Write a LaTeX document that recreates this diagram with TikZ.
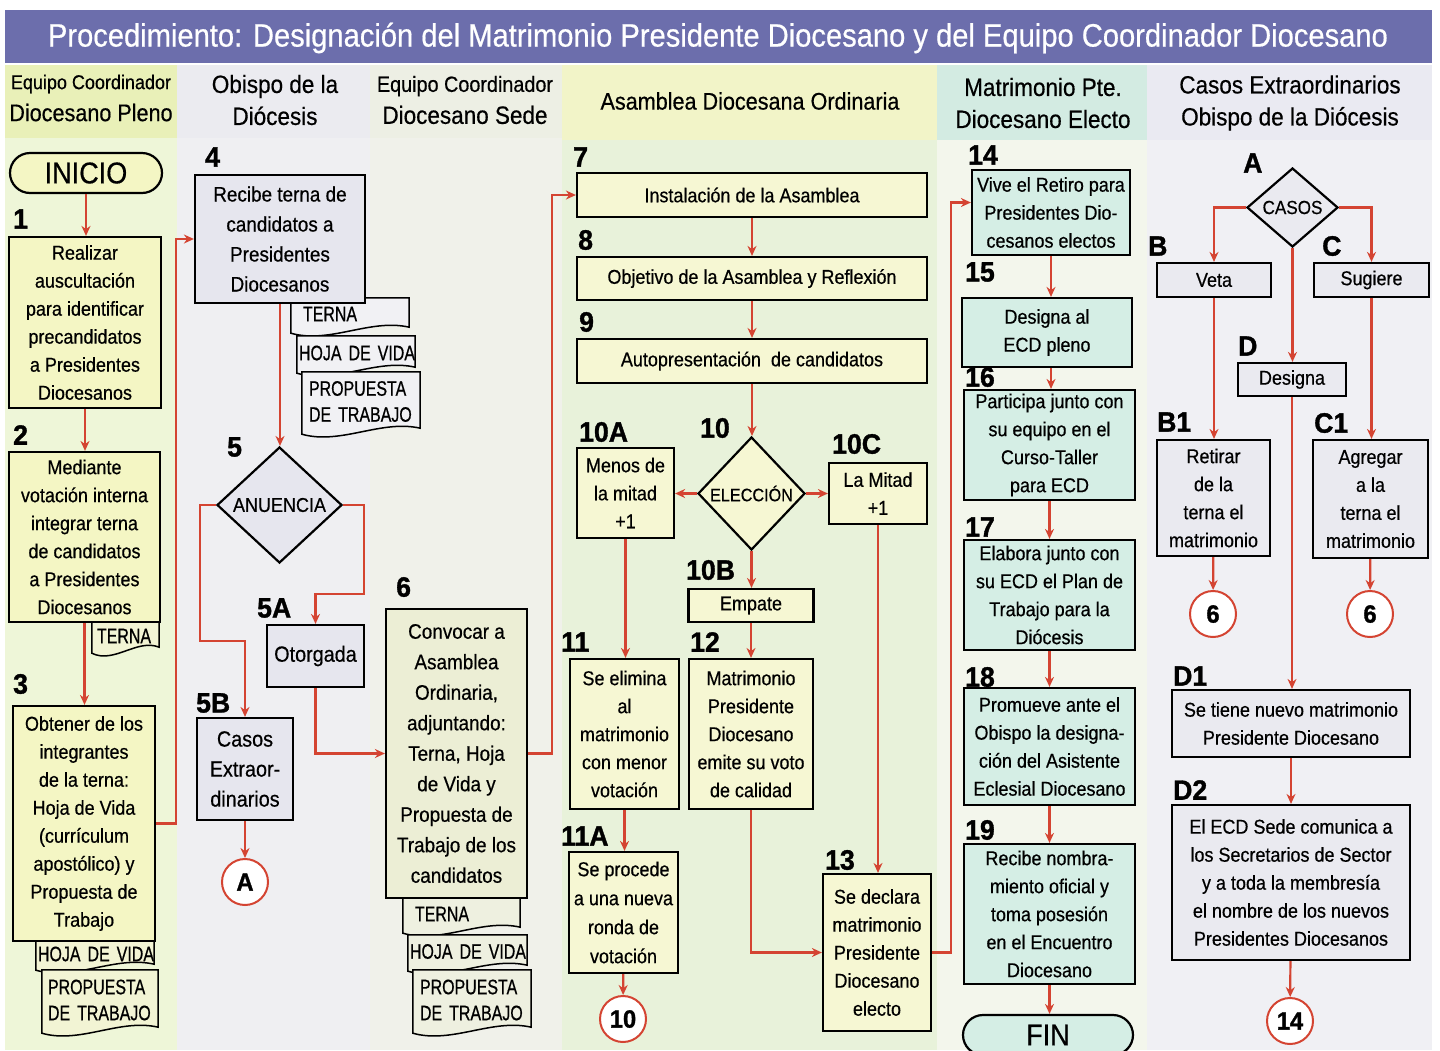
\documentclass[tikz,border=0pt]{standalone}
\usepackage{fontspec}
\setmainfont{Liberation Sans}[FakeStretch=0.9,FakeBold=0.5]
\newfontfamily\numfont{Liberation Sans}[FakeStretch=0.95,FakeBold=1.2]
\newfontfamily\docfont{Liberation Sans}[FakeStretch=0.76,FakeBold=0.6]
\usetikzlibrary{shapes.geometric,arrows.meta,calc,backgrounds}

\definecolor{titlebg}{RGB}{108,110,172}
\definecolor{flowred}{RGB}{212,68,50}
\definecolor{hdA}{RGB}{233,240,184}
\definecolor{bgA}{RGB}{238,246,216}
\definecolor{hdB}{RGB}{235,235,240}
\definecolor{bgB}{RGB}{239,239,242}
\definecolor{hdC}{RGB}{237,239,228}
\definecolor{bgC}{RGB}{240,241,234}
\definecolor{hdD}{RGB}{242,244,200}
\definecolor{bgD}{RGB}{232,242,218}
\definecolor{hdE}{RGB}{211,235,226}
\definecolor{bgE}{RGB}{243,246,236}
\definecolor{hdF}{RGB}{234,234,242}
\definecolor{bgF}{RGB}{240,240,244}
\definecolor{fillA}{RGB}{244,246,196}
\definecolor{fillB}{RGB}{230,230,238}
\definecolor{fillC}{RGB}{236,238,213}
\definecolor{fillD}{RGB}{246,247,211}
\definecolor{fillE}{RGB}{213,238,229}
\definecolor{fillF}{RGB}{234,234,240}
\definecolor{docA}{RGB}{242,244,212}
\definecolor{docB}{RGB}{241,241,244}
\definecolor{docC}{RGB}{238,240,224}

% document sheet with a wavy lower edge, drawn behind a node
\newcommand{\docframe}[2]{%
  \filldraw[fill=#2,draw=black,line width=1.5pt]
    (#1.north west) -- ($(#1.south west)+(0,3)$)
    .. controls ($(#1.south west)!0.33!(#1.south east)+(0,14)$)
    and ($(#1.south west)!0.67!(#1.south east)+(0,-12)$)
    .. ($(#1.south east)+(0,-3)$) -- (#1.north east) -- cycle;}

\begin{document}
\begin{tikzpicture}[x=1pt,y=-1pt,>={Stealth[length=10pt,width=9pt]},
    flow/.style={draw=flowred,line width=2.2pt,->},
    box/.style={draw,line width=2.2pt,align=center,inner sep=1pt,font=\fontsize{20}{28}\selectfont},
    sz/.style 2 args={minimum width=#1pt,minimum height=#2pt},
    dec/.style={diamond,draw,line width=2.2pt,inner sep=0pt,aspect=1},
    hdr/.style={align=center,inner sep=0pt,font=\fontsize{25}{32}\selectfont},
    num/.style={anchor=west,inner sep=0pt,font=\numfont\bfseries\fontsize{28}{28}\selectfont},
    refc/.style={circle,draw=flowred,line width=2pt,fill=white,minimum size=46pt,inner sep=0pt,
        font=\numfont\bfseries\fontsize{25}{25}\selectfont},
    docu/.style 2 args={text width=#1pt,minimum height=#2pt,inner ysep=0pt,align=left,
        font=\docfont\fontsize{21}{26}\selectfont}]
\useasboundingbox (0,0) rectangle (1440,1050);

% title and lane headings
\node[text=white,inner sep=0pt,font=\fontsize{30}{30}\selectfont] (title) at (718,38)
    {\resizebox{1340pt}{!}{Procedimiento: Designación del Matrimonio Presidente Diocesano y del Equipo Coordinador Diocesano}};
\node[hdr] (hd1) at (91,98) {{\fontsize{20}{24}\selectfont Equipo Coordinador}\\{\fontsize{24}{30}\selectfont Diocesano Pleno}};
\node[hdr] (hd2) at (275,100) {Obispo de la\\Diócesis};
\node[hdr] (hd3) at (465,100) {{\fontsize{22}{28}\selectfont Equipo Coordinador}\\Diocesano Sede};
\node[hdr,font=\fontsize{24}{30}\selectfont] (hd4) at (750,101) {Asamblea Diocesana Ordinaria};
\node[hdr] (hd5) at (1043,103) {Matrimonio Pte.\\Diocesano Electo};
\node[hdr] (hd6) at (1290,103) {Casos Extraordinarios\\Obispo de la Diócesis};

% Equipo Coordinador Diocesano Pleno
\node[box,fill=fillA,sz={152}{40},rounded corners=20pt,font=\fontsize{30}{30}\selectfont] (inicio) at (86,173) {INICIO};
\node[num] (l1) at (13,219) {1};
\node[box,fill=fillA,sz={152}{171}] (b1) at (85,322.5) {Realizar\\auscultación\\para identificar\\precandidatos\\a Presidentes\\Diocesanos};
\node[num] (l2) at (13,435) {2};
\node[box,fill=fillA,sz={151}{170}] (b2) at (84.5,537) {Mediante\\votación interna\\integrar terna\\de candidatos\\a Presidentes\\Diocesanos};
\node[docu={57}{28},inner xsep=5pt] (d2t) at (125.5,636) {TERNA};
\node[docu={114}{26},inner xsep=2pt] (d3h) at (95,954) {HOJA~DE~VIDA};
\node[num] (l3) at (13,684) {3};
\node[box,fill=fillA,sz={142}{235}] (b3) at (84,823.5) {Obtener de los\\integrantes\\de la terna:\\Hoja de Vida\\(currículum\\apostólico) y\\Propuesta de\\Trabajo};
\node[docu={104}{60},inner xsep=6pt] (d3p) at (100,1000) {PROPUESTA\\DE~TRABAJO};

% Obispo de la Diocesis
\node[num] (l4) at (205,157) {4};
\node[box,fill=fillB,sz={170}{128},font=\fontsize{21}{30}\selectfont] (b4) at (280,239) {Recibe terna de\\candidatos a\\Presidentes\\Diocesanos};
\node[docu={94}{32},inner xsep=12pt] (d4t) at (350,314) {TERNA};
\node[docu={114}{34},inner xsep=2pt] (d4h) at (356,353) {HOJA~DE~VIDA};
\node[docu={104}{59},inner xsep=7pt] (d4p) at (361,401.5) {PROPUESTA\\DE~TRABAJO};
\node[num] (l5) at (227,447) {5};
\node[dec,fill=fillB,sz={125}{116},font=\fontsize{20}{20}\selectfont] (anuencia) at (279.5,505) {ANUENCIA};
\node[num] (l5a) at (257,608) {5A};
\node[box,fill=fillB,sz={97}{62},font=\fontsize{22}{30}\selectfont] (otorgada) at (315.5,656) {Otorgada};
\node[num] (l5b) at (196,703) {5B};
\node[box,fill=fillB,sz={96}{102},font=\fontsize{22}{30}\selectfont] (extra) at (245,769) {Casos\\Extraor-\\dinarios};
\node[refc] (refA) at (245,882) {A};

% Equipo Coordinador Diocesano Sede
\node[num] (l6) at (396,587) {6};
\node[box,fill=fillC,sz={141}{289},font=\fontsize{21}{30.5}\selectfont] (b6) at (456.5,753.5) {Convocar a\\Asamblea\\Ordinaria,\\adjuntando:\\Terna, Hoja\\de Vida y\\Propuesta de\\Trabajo de los\\candidatos};
\node[docu={93}{32},inner xsep=12pt] (d6t) at (461.5,914) {TERNA};
\node[docu={115}{33},inner xsep=2pt] (d6h) at (467.5,951.5) {HOJA~DE~VIDA};
\node[docu={104}{60},inner xsep=7pt] (d6p) at (472,1000) {PROPUESTA\\DE~TRABAJO};

% Asamblea Diocesana Ordinaria
\node[num] (l7) at (573,157) {7};
\node[box,fill=fillD,sz={350}{44}] (b7) at (752,195) {Instalación de la Asamblea};
\node[num] (l8) at (578,240) {8};
\node[box,fill=fillD,sz={350}{43}] (b8) at (752,278.5) {Objetivo de la Asamblea y Reflexión};
\node[num] (l9) at (579,322) {9};
\node[box,fill=fillD,sz={350}{44}] (b9) at (752,361) {Autopresentación~~de candidatos};
\node[num] (l10) at (700,428) {10};
\node[dec,fill=fillD,sz={107}{113},font=\fontsize{18}{18}\selectfont] (eleccion) at (751.5,493.5) {ELECCIÓN};
\node[num] (l10a) at (579,432) {10A};
\node[box,fill=fillD,sz={97}{90}] (b10a) at (625.5,493) {Menos de\\la mitad\\+1};
\node[num] (l10c) at (832,444) {10C};
\node[box,fill=fillD,sz={98}{61}] (b10c) at (878,493.5) {La Mitad\\+1};
\node[num] (l10b) at (686,570) {10B};
\node[box,fill=fillD,sz={125}{33}] (empate) at (751,605.5) {Empate};
\node[num] (l11) at (561,642) {11};
\node[box,fill=fillD,sz={109}{150}] (b11) at (624.5,734) {Se elimina\\al\\matrimonio\\con menor\\votación};
\node[num] (l12) at (690,642) {12};
\node[box,fill=fillD,sz={124}{150}] (b12) at (751,734) {Matrimonio\\Presidente\\Diocesano\\emite su voto\\de calidad};
\node[num] (l11a) at (561,836) {11A};
\node[box,fill=fillD,sz={109}{121},font=\fontsize{20}{29}\selectfont] (b11a) at (623.5,912.5) {Se procede\\a una nueva\\ronda de\\votación};
\node[refc] (ref10) at (623,1019) {10};
\node[num] (l13) at (825,860) {13};
\node[box,fill=fillD,sz={108}{157}] (b13) at (877,952.5) {Se declara\\matrimonio\\Presidente\\Diocesano\\electo};

% Matrimonio Presidente Diocesano Electo
\node[num] (l14) at (968,155) {14};
\node[box,fill=fillE,sz={158}{85}] (b14) at (1051,212.5) {Vive el Retiro para\\Presidentes Dio-\\cesanos electos};
\node[num] (l15) at (965,272) {15};
\node[box,fill=fillE,sz={170}{69}] (b15) at (1047,332.5) {Designa al\\ECD pleno};
\node[num] (l16) at (965,377) {16};
\node[box,fill=fillE,sz={171}{110}] (b16) at (1049.5,445) {Participa junto con\\su equipo en el\\Curso-Taller\\para ECD};
\node[num] (l17) at (965,527) {17};
\node[box,fill=fillE,sz={171}{110}] (b17) at (1049.5,595) {Elabora junto con\\su ECD el Plan de\\Trabajo para la\\Diócesis};
\node[num] (l18) at (965,677) {18};
\node[box,fill=fillE,sz={171}{117}] (b18) at (1049.5,746.5) {Promueve ante el\\Obispo la designa-\\ción del Asistente\\Eclesial Diocesano};
\node[num] (l19) at (965,830) {19};
\node[box,fill=fillE,sz={171}{140}] (b19) at (1049.5,914) {Recibe nombra-\\miento oficial y\\toma posesión\\en el Encuentro\\Diocesano};
\node[box,fill=fillE,sz={170}{40},rounded corners=20pt,font=\fontsize{30}{30}\selectfont] (fin) at (1048,1035) {FIN};

% Casos Extraordinarios
\node[num] (la) at (1243,163) {A};
\node[dec,fill=fillF,sz={91}{79},font=\fontsize{19}{19}\selectfont] (casos) at (1292.5,207.5) {CASOS};
\node[num] (lb) at (1148,246) {B};
\node[box,fill=fillF,sz={114}{34}] (veta) at (1214,280) {Veta};
\node[num] (lc) at (1322,246) {C};
\node[box,fill=fillF,sz={115}{34}] (sugiere) at (1371.5,280) {Sugiere};
\node[num] (ld) at (1238,346) {D};
\node[box,fill=fillF,sz={108}{33}] (designa) at (1292,379.5) {Designa};
\node[num] (lb1) at (1157,422) {B1};
\node[box,fill=fillF,sz={113}{116}] (retirar) at (1213.5,498) {Retirar\\de la\\terna el\\matrimonio};
\node[num] (lc1) at (1314,423) {C1};
\node[box,fill=fillF,sz={115}{118}] (agregar) at (1370.5,499) {Agregar\\a la\\terna el\\matrimonio};
\node[refc] (ref6a) at (1213,614) {6};
\node[refc] (ref6b) at (1370,614) {6};
\node[num] (ld1) at (1173,676) {D1};
\node[box,fill=fillF,sz={238}{67}] (nuevo) at (1291,723.5) {Se tiene nuevo matrimonio\\Presidente Diocesano};
\node[num] (ld2) at (1173,790) {D2};
\node[box,fill=fillF,sz={238}{155}] (comunica) at (1291,882.5) {El ECD Sede comunica a\\los Secretarios de Sector\\y a toda la membresía\\el nombre de los nuevos\\Presidentes Diocesanos};
\node[refc] (ref14) at (1290,1021) {14};

% connectors
\draw[flow] (inicio) -- (inicio |- b1.north);
\draw[flow] (b1) -- (b1 |- b2.north);
\draw[flow] (b2) -- (b2 |- b3.north);
\draw[flow] (b3.east) -- ++(20,0) |- (b4.west);
\draw[flow] (b4) -- (b4 |- anuencia.north);
\draw[flow] (anuencia.west) -- ++(-16,0) -- ++(0,136) -| (extra.north);
\draw[flow] (anuencia.east) -- ++(21,0) -- ++(0,89) -| (otorgada.north);
\draw[flow] (otorgada.south) |- (b6.west);
\draw[flow] (extra) -- (refA);
\draw[flow] (b6.east) -- ++(24,0) |- (b7.west);
\draw[flow] (b7) -- (b7 |- b8.north);
\draw[flow] (b8) -- (b8 |- b9.north);
\draw[flow] (b9) -- (b9 |- eleccion.north);
\draw[flow] (eleccion.west) -- (eleccion.west -| b10a.east);
\draw[flow] (eleccion.east) -- (eleccion.east -| b10c.west);
\draw[flow] (eleccion.south) -- (eleccion.south |- empate.north);
\draw[flow] (empate) -- (empate |- b12.north);
\draw[flow] (b10a) -- (b10a |- b11.north);
\draw[flow] (b11) -- (b11 |- b11a.north);
\draw[flow] (b11a) -- (ref10);
\draw[flow] (b10c) -- (b10c |- b13.north);
\draw[flow] (b12.south) |- (b13.west);
\draw[flow] (b13.east) -- ++(19,0) |- ([yshift=10pt]b14.west);
\draw[flow] (b14.south) -- (b14.south |- b15.north);
\draw[flow] (b14.south |- b15.south) -- (b14.south |- b16.north);
\draw[flow] (b16) -- (b16 |- b17.north);
\draw[flow] (b17) -- (b17 |- b18.north);
\draw[flow] (b18) -- (b18 |- b19.north);
\draw[flow] (b19) -- (b19 |- fin.north);
\draw[flow] (casos.west) -| (veta.north);
\draw[flow] (casos.east) -| (sugiere.north);
\draw[flow] (casos.south) -- (casos.south |- designa.north);
\draw[flow] (veta) -- (veta |- retirar.north);
\draw[flow] (sugiere) -- (sugiere |- agregar.north);
\draw[flow] (retirar) -- (ref6a);
\draw[flow] (agregar) -- (ref6b);
\draw[flow] (designa) -- (designa |- nuevo.north);
\draw[flow] (nuevo) -- (nuevo |- comunica.north);
\draw[flow] (comunica) -- (ref14);

\begin{pgfonlayer}{background}
  \fill[white] (0,0) rectangle (1440,1050);
  \fill[titlebg] (5,10) rectangle (1432,63);
  \fill[hdA] (5,65) rectangle (177,138);     \fill[bgA] (5,138) rectangle (177,1050);
  \fill[hdB] (177,65) rectangle (370,138);   \fill[bgB] (177,138) rectangle (370,1050);
  \fill[hdC] (370,65) rectangle (562,138);   \fill[bgC] (370,138) rectangle (562,1050);
  \fill[hdD] (562,65) rectangle (937,140);   \fill[bgD] (562,140) rectangle (937,1050);
  \fill[hdE] (937,65) rectangle (1147,140);  \fill[bgE] (937,140) rectangle (1147,1050);
  \fill[hdF] (1147,65) rectangle (1432,140); \fill[bgF] (1147,140) rectangle (1432,1050);
  \docframe{d2t}{docA}
  \docframe{d3h}{docA}
  \docframe{d3p}{docA}
  \docframe{d4t}{docB}
  \docframe{d4h}{docB}
  \docframe{d4p}{docB}
  \docframe{d6t}{docC}
  \docframe{d6h}{docC}
  \docframe{d6p}{docC}
\end{pgfonlayer}
\end{tikzpicture}
\end{document}
